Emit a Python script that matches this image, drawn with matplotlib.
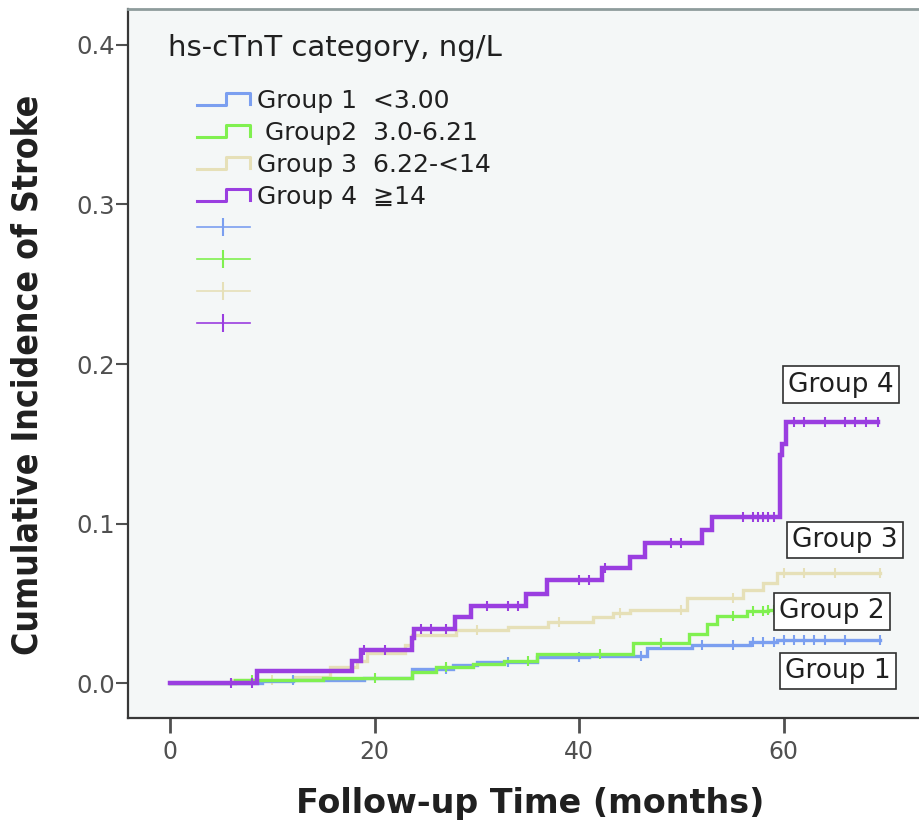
import numpy as np
import matplotlib
matplotlib.use('Agg')
from matplotlib import pyplot as plt
from matplotlib.lines import Line2D
from matplotlib.legend_handler import HandlerBase

# cumulative incidence step curves (time in months, incidence)
t1 = [0, 9, 12, 19, 23.7, 27.7, 30, 35.9, 41, 46.6, 51, 56.7, 59.3, 69.4]
v1 = [0, 0.001, 0.002, 0.003, 0.009, 0.011, 0.013, 0.016, 0.017, 0.022, 0.024, 0.026, 0.027, 0.027]

t2 = [0, 6.4, 15, 23.7, 26, 29.6, 32.7, 35.9, 45.3, 50.7, 52.5, 53.5, 56.4, 58.5, 59]
v2 = [0, 0.002, 0.003, 0.007, 0.010, 0.012, 0.014, 0.018, 0.025, 0.031, 0.037, 0.042, 0.045, 0.046, 0.046]

t3 = [0, 6, 12, 15.6, 18.3, 19.3, 23, 23.7, 28, 33, 37, 41.4, 43.3, 45, 50.5, 56, 58, 59.3, 69.4]
v3 = [0, 0.002, 0.004, 0.010, 0.014, 0.019, 0.024, 0.030, 0.033, 0.035, 0.038, 0.0415, 0.044, 0.046,
      0.053, 0.058, 0.063, 0.069, 0.069]

t4 = [0, 8.5, 17.8, 18.7, 23.7, 23.9, 27.9, 29.4, 34.8, 36.9, 42.2, 45, 46.4, 52, 53, 59.6, 59.8, 60.2, 69.2]
v4 = [0, 0.0075, 0.0135, 0.021, 0.028, 0.034, 0.0415, 0.048, 0.056, 0.0646, 0.072, 0.079, 0.088,
      0.096, 0.104, 0.143, 0.150, 0.1636, 0.1636]

# censoring times
c1 = [12, 27, 33, 40, 46, 52, 55, 57, 58, 59, 60, 61, 62, 63, 64, 66, 69.4]
c2 = [8, 20, 27, 35, 42, 48, 55, 57, 58, 58.5, 59]
c3 = [10, 24, 30, 38, 44, 50, 55, 60, 62, 65, 69.4]
c4 = [6, 8, 19, 21, 24.5, 25.5, 27, 31, 33, 34, 40, 41, 42.5, 49, 50, 56, 57, 57.5, 58, 58.5,
      59, 61, 62, 64, 66, 67, 68, 69.2]

legend_labels = ['Group 1  <3.00', ' Group2  3.0-6.21', 'Group 3  6.22-<14', 'Group 4  \u2267' + '14']
end_labels = ['Group 1', 'Group 2', 'Group 3', 'Group 4']
end_pos = [(65.3, 0.0075), (64.7, 0.045), (66.0, 0.0897), (65.6, 0.187)]

colors = ['#7b9ff0', '#80f050', '#e6e0b8', '#9a3ee0']
widths = [2.4, 2.4, 2.4, 3.2]

plt.rcParams['font.family'] = ['DejaVu Sans']


def step_value(t, v, x):
    i = np.searchsorted(t, x, side='right') - 1
    return np.asarray(v)[i]


class StepIcon(HandlerBase):
    def create_artists(self, legend, orig_handle, xdescent, ydescent, width, height, fontsize, trans):
        x0, y0 = -xdescent, -ydescent
        xs = [x0, x0 + 0.56 * width, x0 + 0.56 * width, x0 + width, x0 + width]
        ys = [y0 + 0.15 * height, y0 + 0.15 * height, y0 + 0.85 * height, y0 + 0.85 * height, y0 + 0.2 * height]
        ln = Line2D(xs, ys, color=orig_handle.get_color(), lw=orig_handle.get_linewidth(), transform=trans)
        return [ln]


fig = plt.figure(figsize=(9.19, 8.22), dpi=100)
ax = fig.add_axes([128 / 919, 1 - 718 / 822, 800 / 919, 709 / 822])
ax.set_facecolor('#f4f7f7')

series = [(t1, v1, c1), (t2, v2, c2), (t3, v3, c3), (t4, v4, c4)]
for k in [2, 0, 1, 3]:
    t, v, c = series[k]
    ax.step(t, v, where='post', color=colors[k], lw=widths[k], solid_joinstyle='miter')
    ax.plot(c, step_value(t, v, c), ls='none', marker='|', ms=7, mew=1.5, color=colors[k])

for lab, (x, y) in zip(end_labels, end_pos):
    ax.text(x, y, lab, fontsize=19, ha='center', va='center', color='#202020',
            bbox=dict(boxstyle='square,pad=0.2', fc='white', ec='#303030', lw=1.2))

ax.set_xlim(-4.1, (928 - 170) / 10.23)
ax.set_ylim(-(718 - 683) / 1595, (683 - 9) / 1595)
ax.set_xticks([0, 20, 40, 60])
ax.set_yticks([0.0, 0.1, 0.2, 0.3, 0.4])
ax.set_yticklabels(['0.0', '0.1', '0.2', '0.3', '0.4'])
ax.tick_params(axis='y', direction='out', length=8.5, width=1.5, color='#505050', pad=1,
               labelsize=17.5, labelcolor='#505050')
ax.tick_params(axis='x', direction='out', length=11, width=2, color='#505050', pad=5,
               labelsize=17, labelcolor='#505050')

for s in ['left', 'bottom']:
    ax.spines[s].set_color('#383838')
    ax.spines[s].set_linewidth(1.6)
ax.spines['top'].set_color('#8e9c9c')
ax.spines['top'].set_linewidth(2)
ax.spines['right'].set_visible(False)

# legend: step icons for curves, plus-sign icons for censored marks
step_handles = [Line2D([], [], color=colors[k], lw=2.2) for k in range(4)]
cens_handles = [Line2D([], [], color=colors[k], lw=1.2, marker='|', ms=13, mew=1.5) for k in range(4)]
handler_map = {h: StepIcon() for h in step_handles}


def fx(px):
    return (px - 128) / 800


def fy(py):
    return (718 - py) / 709


leg = ax.legend(step_handles + cens_handles, legend_labels + [''] * 4, handler_map=handler_map,
                loc='upper left', bbox_to_anchor=(fx(197), fy(89)), frameon=False, borderpad=0,
                borderaxespad=0, handlelength=2.1, handletextpad=0.3, labelspacing=0.32,
                numpoints=1, prop={'family': ['DejaVu Sans'], 'size': 18})
for txt in leg.get_texts():
    txt.set_color('#202020')

ax.text(fx(168), fy(48), 'hs-cTnT category, ng/L', transform=ax.transAxes, fontsize=21,
        ha='left', va='center', color='#202020')

fig.text(530 / 919, 1 - 813 / 822, 'Follow-up Time (months)', fontsize=24, fontweight='bold',
         ha='center', va='baseline', color='#202020')
fig.text(28 / 919, 1 - 375 / 822, 'Cumulative Incidence of Stroke', fontsize=25.5, fontweight='bold',
         fontstretch='condensed', rotation=90, ha='center', va='center', color='#202020')

fig.savefig('out.png', dpi=100)
